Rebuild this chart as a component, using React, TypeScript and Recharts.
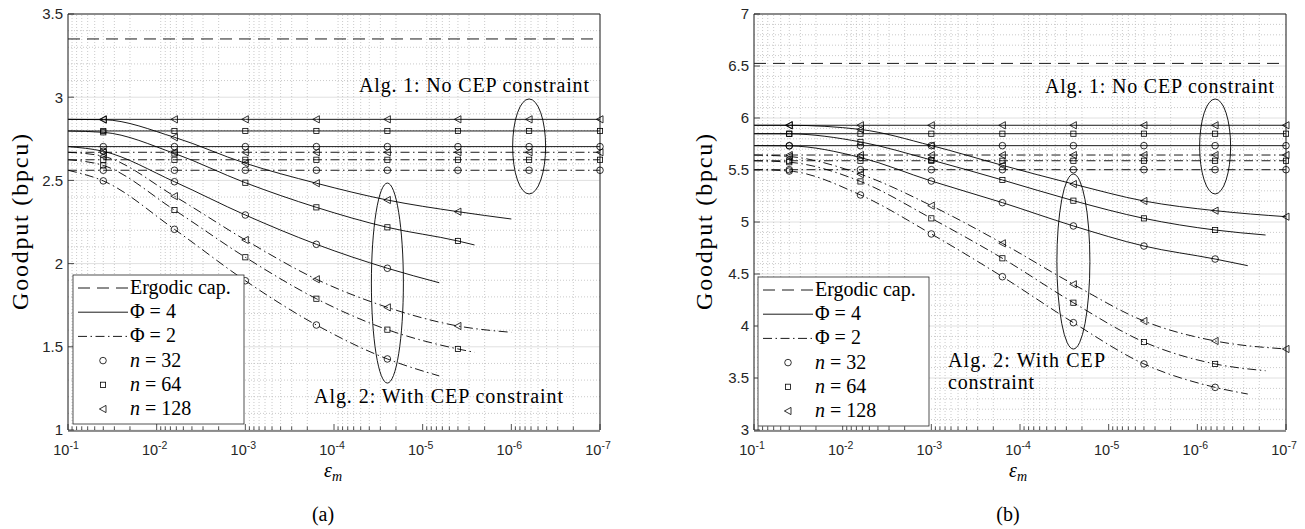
import React from "react";
import { LineChart, Line, XAxis, YAxis, CartesianGrid, ReferenceDot, ReferenceLine } from "recharts";

const SERIF = '"Liberation Serif", "Times New Roman", serif';
const SANS = '"Liberation Sans", Arial, sans-serif';
const INK = "#262626";
const H = 529;
const PLOT_TOP = 14;
const PLOT_BOTTOM = 430;

const DASH = "12 7";
const DASHDOT = "9 3.5 1.5 3.5";

// x axis: epsilon_m, log scale, reversed
const EPS_START = 0.1;
const EPS_END = 1e-7;
const EPS_MARKS = [0.04, 0.0063, 0.001, 1.58e-4, 2.5e-5, 4e-6, 6.3e-7, 1e-7];
const X_TICKS = [1e-1, 1e-2, 1e-3, 1e-4, 1e-5, 1e-6, 1e-7];
const X_TICK_EXP = ["-1", "-2", "-3", "-4", "-5", "-6", "-7"];
const N_LABELS = ["32", "64", "128"];
const N_SHAPES = ["circle", "square", "triangle"];

// minor log ticks (2..9 x 10^k)
const MINOR_X: number[] = [];
for (let k = -7; k <= -2; k++) for (let m = 2; m <= 9; m++) MINOR_X.push(m * Math.pow(10, k));
const ALL_X = [...X_TICKS, ...MINOR_X].sort((a, b) => a - b);

// ---- panel (a)
const A_Y_TICKS = [1, 1.5, 2, 2.5, 3, 3.5];
const A_ERGODIC = 3.35;
const A_NOCEP_PHI4 = [2.703, 2.797, 2.867];
const A_NOCEP_PHI2 = [2.561, 2.624, 2.669];
const A_CEP_X = [
  [0.1, 0.04, 0.0063, 0.001, 1.58e-4, 2.5e-5, 6.5e-6],
  [0.1, 0.04, 0.0063, 0.001, 1.58e-4, 2.5e-5, 4e-6, 2.6e-6],
  [0.1, 0.04, 0.0063, 0.001, 1.58e-4, 2.5e-5, 4e-6, 1e-6],
];
const A_CEP_PHI4 = [
  [2.703, 2.675, 2.492, 2.292, 2.116, 1.972, 1.885],
  [2.797, 2.789, 2.662, 2.486, 2.338, 2.218, 2.136, 2.112],
  [2.867, 2.865, 2.759, 2.603, 2.483, 2.382, 2.312, 2.268],
];
const A_CEP_PHI2 = [
  [2.561, 2.497, 2.206, 1.897, 1.631, 1.427, 1.325],
  [2.624, 2.59, 2.322, 2.038, 1.789, 1.603, 1.487, 1.467],
  [2.669, 2.645, 2.405, 2.142, 1.906, 1.737, 1.625, 1.587],
];

// ---- panel (b)
const B_Y_TICKS = [3, 3.5, 4, 4.5, 5, 5.5, 6, 6.5, 7];
const B_ERGODIC = 6.525;
const B_NOCEP_PHI4 = [5.734, 5.849, 5.93];
const B_NOCEP_PHI2 = [5.503, 5.589, 5.644];
const B_CEP_X = [
  [0.1, 0.04, 0.0063, 0.001, 1.58e-4, 2.5e-5, 4e-6, 6.3e-7, 2.7e-7],
  [0.1, 0.04, 0.0063, 0.001, 1.58e-4, 2.5e-5, 4e-6, 6.3e-7, 1.7e-7],
  [0.1, 0.04, 0.0063, 0.001, 1.58e-4, 2.5e-5, 4e-6, 6.3e-7, 1e-7],
];
const B_CEP_PHI4 = [
  [5.734, 5.732, 5.62, 5.394, 5.186, 4.962, 4.769, 4.644, 4.58],
  [5.849, 5.848, 5.77, 5.596, 5.404, 5.205, 5.035, 4.923, 4.875],
  [5.93, 5.93, 5.89, 5.735, 5.545, 5.365, 5.202, 5.109, 5.051],
];
const B_CEP_PHI2 = [
  [5.503, 5.49, 5.26, 4.885, 4.474, 4.032, 3.635, 3.41, 3.346],
  [5.589, 5.575, 5.39, 5.035, 4.651, 4.224, 3.846, 3.635, 3.57],
  [5.644, 5.63, 5.46, 5.157, 4.795, 4.401, 4.048, 3.856, 3.779],
];

type Pt = { x: number; y: number; m: boolean };

const flatSeries = (v: number): Pt[] => [
  { x: EPS_START, y: v, m: false },
  ...EPS_MARKS.map((x) => ({ x, y: v, m: true })),
];
const curveSeries = (xs: number[], ys: number[]): Pt[] =>
  xs.map((x, i) => ({ x, y: ys[i], m: EPS_MARKS.includes(x) }));

const isMajorX = (v: number) => X_TICKS.some((t) => Math.abs(Math.log10(t) - Math.log10(v)) < 1e-6);

function Marker({ shape, cx, cy }: { shape: string; cx: number; cy: number }) {
  const s = { fill: "none", stroke: "#000", strokeWidth: 0.8 };
  if (shape === "circle") return <circle cx={cx} cy={cy} r={3.3} {...s} />;
  if (shape === "square") return <rect x={cx - 2.6} y={cy - 2.6} width={5.2} height={5.2} {...s} />;
  return <polygon points={`${cx - 3.6},${cy} ${cx + 3},${cy - 3.6} ${cx + 3},${cy + 3.6}`} {...s} />;
}

const makeDot = (shape: string) => (p: any) => {
  const { cx, cy, payload, index } = p;
  if (!payload || !payload.m || cx == null) return <g key={`d${index}`} />;
  return <Marker key={`d${index}`} shape={shape} cx={cx} cy={cy} />;
};

function Legend({ lx, ly }: { lx: number; ly: number }) {
  const row = (i: number) => ly + 13 + i * 24.2;
  const lines = [
    { dash: DASH, label: <tspan>Ergodic cap.</tspan> },
    { dash: undefined, label: <tspan>Φ = 4</tspan> },
    { dash: DASHDOT, label: <tspan>Φ = 2</tspan> },
  ];
  return (
    <g>
      <rect x={lx} y={ly} width={171} height={149} fill="#fff" stroke={INK} strokeWidth={0.8} />
      {lines.map((l, i) => (
        <g key={i}>
          <line x1={lx + 5} x2={lx + 55} y1={row(i)} y2={row(i)} stroke="#000" strokeWidth={0.9} strokeDasharray={l.dash} />
          <text x={lx + 57} y={row(i) + 6} fontFamily={SERIF} fontSize={20} fill="#000">
            {l.label}
          </text>
        </g>
      ))}
      {N_LABELS.map((n, i) => (
        <g key={n}>
          <Marker shape={N_SHAPES[i]} cx={lx + 30} cy={row(i + 3)} />
          <text x={lx + 57} y={row(i + 3) + 6} fontFamily={SERIF} fontSize={20} fill="#000">
            <tspan fontStyle="italic">n</tspan> = {n}
          </text>
        </g>
      ))}
    </g>
  );
}

type EllipseSpec = { x: number; y: number; rx: number; ry: number };

type PanelProps = {
  width: number;
  left: number;
  right: number;
  yTicks: number[];
  ergodic: number;
  nocep4: number[];
  nocep2: number[];
  cepX: number[][];
  cep4: number[][];
  cep2: number[][];
  ellipses: EllipseSpec[];
  children?: React.ReactNode;
};

function Panel(p: PanelProps) {
  const y0 = p.yTicks[0];
  const y1 = p.yTicks[p.yTicks.length - 1];
  const minorY: number[] = [];
  for (let v = Math.round(y0 * 10) + 1; v < Math.round(y1 * 10); v++) if (v % 5 !== 0) minorY.push(v / 10);

  const xCommon = {
    type: "number" as const,
    scale: "log" as const,
    domain: [EPS_END, EPS_START],
    reversed: true,
    height: 1,
    interval: 0 as const,
  };
  const yCommon = { type: "number" as const, domain: [y0, y1], width: 1, interval: 0 as const };
  const minorStyle = { stroke: "#bdbdbd", strokeDasharray: "1 2", strokeWidth: 0.8 };

  const XTickBottom = (t: any) => {
    const major = isMajorX(t.payload.value);
    const i = X_TICKS.findIndex((v) => Math.abs(Math.log10(v) - Math.log10(t.payload.value)) < 1e-6);
    return (
      <g>
        <line x1={t.x} x2={t.x} y1={PLOT_BOTTOM} y2={PLOT_BOTTOM - (major ? 6 : 3.5)} stroke={INK} strokeWidth={0.8} />
        {major && (
          <text x={t.x - 2} y={PLOT_BOTTOM + 25} textAnchor="middle" fontFamily={SANS} fontSize={14.5} fill={INK}>
            10<tspan dy={-6} fontSize={10.5}>{X_TICK_EXP[i]}</tspan>
          </text>
        )}
      </g>
    );
  };
  const XTickTop = (t: any) => {
    const major = isMajorX(t.payload.value);
    return <line x1={t.x} x2={t.x} y1={PLOT_TOP} y2={PLOT_TOP + (major ? 6 : 3.5)} stroke={INK} strokeWidth={0.8} />;
  };
  const YTickLeft = (t: any) => (
    <g>
      <line x1={p.left} x2={p.left + 6} y1={t.y} y2={t.y} stroke={INK} strokeWidth={0.8} />
      <text x={p.left - 5} y={t.y} dy="0.36em" textAnchor="end" fontFamily={SANS} fontSize={15} fill={INK}>
        {String(t.payload.value)}
      </text>
    </g>
  );
  const YTickRight = (t: any) => (
    <line x1={p.right} x2={p.right - 6} y1={t.y} y2={t.y} stroke={INK} strokeWidth={0.8} />
  );

  return (
    <div style={{ position: "relative", width: p.width, height: H }}>
      <LineChart
        width={p.width}
        height={H}
        margin={{ top: PLOT_TOP - 1, right: p.width - p.right - 1, bottom: H - PLOT_BOTTOM - 1, left: p.left - 1 }}
      >
        <XAxis xAxisId="main" dataKey="x" {...xCommon} ticks={ALL_X} tick={XTickBottom} tickLine={false} axisLine={{ stroke: INK }} />
        <XAxis xAxisId="top" orientation="top" {...xCommon} ticks={ALL_X} tick={XTickTop} tickLine={false} axisLine={{ stroke: INK }} />
        <XAxis xAxisId="gridMajor" hide {...xCommon} ticks={X_TICKS} />
        <YAxis yAxisId="main" {...yCommon} ticks={p.yTicks} tick={YTickLeft} tickLine={false} axisLine={{ stroke: INK }} />
        <YAxis yAxisId="right" orientation="right" {...yCommon} ticks={p.yTicks} tick={YTickRight} tickLine={false} axisLine={{ stroke: INK }} />

        <CartesianGrid xAxisId="gridMajor" yAxisId="main" stroke="#e0e0e0" strokeWidth={1} />
        {MINOR_X.map((v) => (
          <ReferenceLine key={`mx${v}`} xAxisId="main" yAxisId="main" x={v} {...minorStyle} />
        ))}
        {minorY.map((v) => (
          <ReferenceLine key={`my${v}`} xAxisId="main" yAxisId="main" y={v} {...minorStyle} />
        ))}

        <Line xAxisId="main" yAxisId="main" data={[{ x: EPS_START, y: p.ergodic }, { x: EPS_END, y: p.ergodic }]} dataKey="y" type="linear" stroke="#000" strokeWidth={0.9} strokeDasharray={DASH} dot={false} activeDot={false} isAnimationActive={false} />
        {p.nocep4.map((v, i) => (
          <Line key={`h4${i}`} xAxisId="main" yAxisId="main" data={flatSeries(v)} dataKey="y" type="linear" stroke="#000" strokeWidth={0.9} dot={makeDot(N_SHAPES[i])} activeDot={false} isAnimationActive={false} />
        ))}
        {p.nocep2.map((v, i) => (
          <Line key={`h2${i}`} xAxisId="main" yAxisId="main" data={flatSeries(v)} dataKey="y" type="linear" stroke="#000" strokeWidth={0.9} strokeDasharray={DASHDOT} dot={makeDot(N_SHAPES[i])} activeDot={false} isAnimationActive={false} />
        ))}
        {p.cep4.map((ys, i) => (
          <Line key={`c4${i}`} xAxisId="main" yAxisId="main" data={curveSeries(p.cepX[i], ys)} dataKey="y" type="monotone" stroke="#000" strokeWidth={0.9} dot={makeDot(N_SHAPES[i])} activeDot={false} isAnimationActive={false} />
        ))}
        {p.cep2.map((ys, i) => (
          <Line key={`c2${i}`} xAxisId="main" yAxisId="main" data={curveSeries(p.cepX[i], ys)} dataKey="y" type="monotone" stroke="#000" strokeWidth={0.9} strokeDasharray={DASHDOT} dot={makeDot(N_SHAPES[i])} activeDot={false} isAnimationActive={false} />
        ))}
        {p.ellipses.map((e, i) => (
          <ReferenceDot
            key={`e${i}`}
            xAxisId="main"
            yAxisId="main"
            x={e.x}
            y={e.y}
            shape={(s: any) => <ellipse cx={s.cx} cy={s.cy} rx={e.rx} ry={e.ry} fill="none" stroke="#000" strokeWidth={0.9} />}
          />
        ))}
      </LineChart>
      <svg width={p.width} height={H} style={{ position: "absolute", left: 0, top: 0, pointerEvents: "none" }}>
        {p.children}
      </svg>
    </div>
  );
}

function YLabel({ x }: { x: number }) {
  return (
    <text transform={`translate(${x},222) rotate(-90)`} textAnchor="middle" dy="0.3em" fontFamily={SERIF} fontSize={24} textLength={176} fill="#000">
      Goodput (bpcu)
    </text>
  );
}

function XLabel({ x }: { x: number }) {
  return (
    <text x={x} y={477} textAnchor="middle" fontFamily={SERIF} fontSize={20} fontStyle="italic" fill="#000">
      ε<tspan fontSize={14} dy={4}>m</tspan>
    </text>
  );
}

export default function App() {
  return (
    <div style={{ position: "absolute", left: 0, top: 0, width: 1305, height: H, background: "#fff", display: "flex" }}>
      <Panel
        width={650}
        left={68}
        right={600}
        yTicks={A_Y_TICKS}
        ergodic={A_ERGODIC}
        nocep4={A_NOCEP_PHI4}
        nocep2={A_NOCEP_PHI2}
        cepX={A_CEP_X}
        cep4={A_CEP_PHI4}
        cep2={A_CEP_PHI2}
        ellipses={[
          { x: 6.3e-7, y: 2.704, rx: 16.5, ry: 47.5 },
          { x: 2.5e-5, y: 1.883, rx: 16, ry: 100 },
        ]}
      >
        <Legend lx={73} ly={275} />
        <YLabel x={21} />
        <XLabel x={333} />
        <text x={323} y={521} textAnchor="middle" fontFamily={SERIF} fontSize={20} fill="#000">(a)</text>
        <text x={359} y={92} fontFamily={SERIF} fontSize={20} textLength={230} fill="#000">Alg. 1: No CEP constraint</text>
        <text x={314} y={403} fontFamily={SERIF} fontSize={20} textLength={249} fill="#000">Alg. 2: With CEP constraint</text>
      </Panel>
      <Panel
        width={655}
        left={104}
        right={636}
        yTicks={B_Y_TICKS}
        ergodic={B_ERGODIC}
        nocep4={B_NOCEP_PHI4}
        nocep2={B_NOCEP_PHI2}
        cepX={B_CEP_X}
        cep4={B_CEP_PHI4}
        cep2={B_CEP_PHI2}
        ellipses={[
          { x: 6.3e-7, y: 5.726, rx: 15.5, ry: 47.5 },
          { x: 2.5e-5, y: 4.62, rx: 16.5, ry: 87.5 },
        ]}
      >
        <Legend lx={108} ly={277} />
        <YLabel x={55} />
        <XLabel x={368} />
        <text x={358} y={521} textAnchor="middle" fontFamily={SERIF} fontSize={20} fill="#000">(b)</text>
        <text x={395} y={93} fontFamily={SERIF} fontSize={20} textLength={229} fill="#000">Alg. 1: No CEP constraint</text>
        <text x={298} y={367} fontFamily={SERIF} fontSize={20} textLength={157} fill="#000">Alg. 2: With CEP</text>
        <text x={298} y={389} fontFamily={SERIF} fontSize={20} textLength={86} fill="#000">constraint</text>
      </Panel>
    </div>
  );
}
